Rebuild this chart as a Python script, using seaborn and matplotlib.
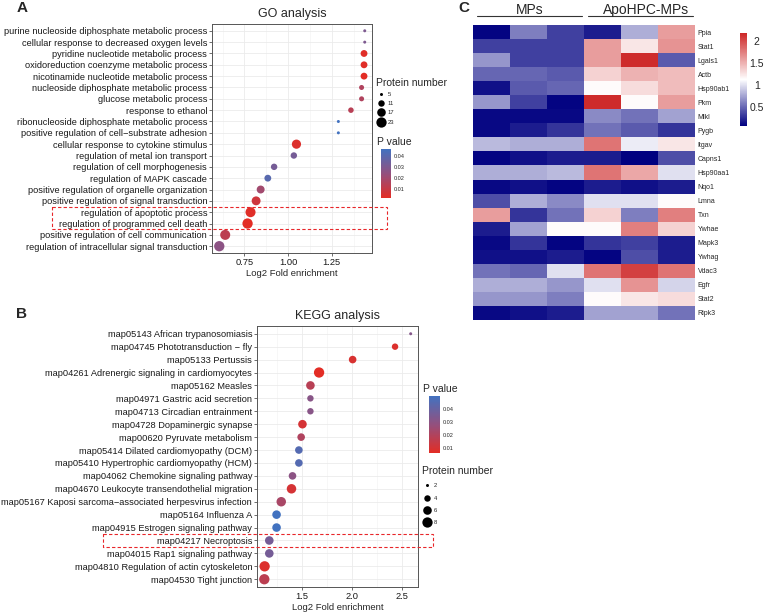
import numpy as np
import pandas as pd
import matplotlib
matplotlib.use("Agg")
import matplotlib.pyplot as plt
import matplotlib.transforms as mtransforms
import seaborn as sns
from matplotlib.colors import LinearSegmentedColormap, Normalize
from matplotlib.cm import ScalarMappable
from matplotlib.patches import Rectangle
from matplotlib.lines import Line2D
from matplotlib.ticker import MultipleLocator, AutoMinorLocator, FormatStrFormatter

# ---- GO enrichment (panel A) ----
go_terms = [
    "purine nucleoside diphosphate metabolic process",
    "cellular response to decreased oxygen levels",
    "pyridine nucleotide metabolic process",
    "oxidoreduction coenzyme metabolic process",
    "nicotinamide nucleotide metabolic process",
    "nucleoside diphosphate metabolic process",
    "glucose metabolic process",
    "response to ethanol",
    "ribonucleoside diphosphate metabolic process",
    "positive regulation of cell\u2212substrate adhesion",
    "cellular response to cytokine stimulus",
    "regulation of metal ion transport",
    "regulation of cell morphogenesis",
    "regulation of MAPK cascade",
    "positive regulation of organelle organization",
    "positive regulation of signal transduction",
    "regulation of apoptotic process",
    "regulation of programmed cell death",
    "positive regulation of cell communication",
    "regulation of intracellular signal transduction",
]
go_fold = [1.439, 1.439, 1.435, 1.435, 1.435, 1.421, 1.421, 1.36, 1.288, 1.288,
           1.048, 1.033, 0.92, 0.884, 0.843, 0.817, 0.785, 0.768, 0.64, 0.606]
go_pval = [0.030, 0.030, 0.003, 0.003, 0.002, 0.016, 0.016, 0.014, 0.046, 0.046,
           0.004, 0.032, 0.032, 0.040, 0.020, 0.008, 0.003, 0.002, 0.013, 0.026]
go_count = [5, 5, 12, 12, 12, 8, 8, 9, 5, 5, 19, 11, 11, 12, 15, 18, 22, 23, 22, 23]
go_size_breaks = [5, 11, 17, 23]

# ---- KEGG enrichment (panel B) ----
kegg_terms = [
    "map05143 African trypanosomiasis",
    "map04745 Phototransduction \u2212 fly",
    "map05133 Pertussis",
    "map04261 Adrenergic signaling in cardiomyocytes",
    "map05162 Measles",
    "map04971 Gastric acid secretion",
    "map04713 Circadian entrainment",
    "map04728 Dopaminergic synapse",
    "map00620 Pyruvate metabolism",
    "map05414 Dilated cardiomyopathy (DCM)",
    "map05410 Hypertrophic cardiomyopathy (HCM)",
    "map04062 Chemokine signaling pathway",
    "map04670 Leukocyte transendothelial migration",
    "map05167 Kaposi sarcoma\u2212associated herpesvirus infection",
    "map05164 Influenza A",
    "map04915 Estrogen signaling pathway",
    "map04217 Necroptosis",
    "map04015 Rap1 signaling pathway",
    "map04810 Regulation of actin cytoskeleton",
    "map04530 Tight junction",
]
kegg_fold = [2.59, 2.433, 2.007, 1.67, 1.583, 1.583, 1.583, 1.503, 1.49, 1.467,
             1.467, 1.403, 1.393, 1.29, 1.243, 1.243, 1.17, 1.17, 1.123, 1.12]
kegg_pval = [0.032, 0.008, 0.009, 0.006, 0.018, 0.031, 0.031, 0.010, 0.020, 0.045,
             0.045, 0.030, 0.010, 0.022, 0.050, 0.050, 0.036, 0.036, 0.008, 0.017]
kegg_count = [2, 4, 5, 8, 6, 4, 4, 6, 5, 5, 5, 5, 7, 7, 6, 6, 6, 6, 8, 8]
kegg_size_breaks = [2, 4, 6, 8]

# ---- heatmap (panel C) ----
heat_genes = ["Ppia", "Stat1", "Lgals1", "Actb", "Hsp90ab1", "Pkm", "Mlkl", "Pygb",
              "Itgav", "Capns1", "Hsp90aa1", "Nqo1", "Lmna", "Txn", "Ywhae", "Mapk3",
              "Ywhag", "Vdac3", "Egfr", "Stat2", "Ripk3"]
heat_groups = ["MPs", "ApoHPC-MPs"]
heat_samples = ["MPs_1", "MPs_2", "MPs_3", "ApoHPC-MPs_1", "ApoHPC-MPs_2", "ApoHPC-MPs_3"]
heat_values = [
    [0.10, 0.60, 0.35, 0.20, 0.80, 1.60],
    [0.35, 0.35, 0.35, 1.60, 1.25, 1.65],
    [0.70, 0.35, 0.35, 1.60, 2.15, 0.45],
    [0.50, 0.50, 0.45, 1.35, 1.50, 1.45],
    [0.15, 0.45, 0.50, 1.15, 1.30, 1.45],
    [0.70, 0.35, 0.10, 2.15, 1.15, 1.60],
    [0.12, 0.12, 0.12, 0.65, 0.55, 0.75],
    [0.12, 0.20, 0.30, 0.55, 0.45, 0.30],
    [0.85, 0.80, 0.80, 1.80, 1.05, 1.25],
    [0.10, 0.15, 0.20, 0.20, 0.08, 0.40],
    [0.80, 0.80, 0.85, 1.80, 1.55, 1.00],
    [0.12, 0.15, 0.10, 0.20, 0.15, 0.20],
    [0.40, 0.80, 0.65, 1.00, 1.00, 1.15],
    [1.60, 0.30, 0.55, 1.35, 0.60, 1.75],
    [0.20, 0.75, 1.15, 1.15, 1.75, 1.35],
    [0.12, 0.30, 0.10, 0.30, 0.35, 0.20],
    [0.15, 0.15, 0.20, 0.10, 0.40, 0.20],
    [0.55, 0.50, 1.00, 1.80, 2.05, 1.80],
    [0.80, 0.80, 0.70, 1.00, 1.65, 0.95],
    [0.70, 0.70, 0.60, 1.15, 1.25, 1.30],
    [0.12, 0.15, 0.20, 0.75, 0.75, 0.55],
]
heat_range = (0.08, 2.18)
heat_ticks = [0.5, 1, 1.5, 2]

sns.set_style("whitegrid")
plt.rcParams["font.family"] = ["Liberation Sans", "DejaVu Sans"]

W, H = 767, 614
fig = plt.figure(figsize=(W / 100, H / 100), dpi=100)


def fbox(x0, y0, x1, y1):
    # pixel box (top-left origin) -> figure fraction rect
    return [x0 / W, 1 - y1 / H, (x1 - x0) / W, (y1 - y0) / H]


pcmap = LinearSegmentedColormap.from_list("pv", ["#E32D25", "#93507E", "#4272C0"])
S_MIN, S_MAX = (3 * 0.72) ** 2, (10.3 * 0.72) ** 2
BOX_RED = "#E8262A"


def dot_panel(ax, terms, fold, pval, count, breaks, title, major, fmt, box_rows, box_x):
    df = pd.DataFrame({"term": terms, "fold": fold, "p": pval, "n": count})
    nmin, nmax = min(count), max(count)
    sns.scatterplot(data=df, x="fold", y="term", hue="p", size="n",
                    palette=pcmap, hue_norm=(min(pval), max(pval)),
                    sizes=(S_MIN, S_MAX), size_norm=(nmin, nmax),
                    linewidth=0, legend=False, ax=ax, zorder=3)
    lo, hi = min(fold), max(fold)
    pad = 0.05 * (hi - lo)
    ax.set_xlim(lo - pad, hi + pad)
    ax.set_ylim(len(terms) - 1 + 0.6, -0.6)
    ax.xaxis.set_major_locator(MultipleLocator(major))
    ax.xaxis.set_minor_locator(AutoMinorLocator(2))
    ax.xaxis.set_major_formatter(FormatStrFormatter(fmt))
    ax.grid(which="major", color="#EBEBEB", lw=0.6)
    ax.grid(which="minor", axis="x", color="#F2F2F2", lw=0.4)
    for s in ax.spines.values():
        s.set_color("#555555")
        s.set_linewidth(0.7)
    ax.tick_params(axis="both", which="major", labelsize=6.7, color="#333333",
                   length=2, width=0.5, labelcolor="#1a1a1a", pad=1.5, bottom=True, left=True)
    ax.tick_params(axis="x", which="minor", length=0)
    ax.set_ylabel("")
    ax.set_xlabel("Log2 Fold enrichment", fontsize=6.8, labelpad=1.5)
    ax.set_title(title, fontsize=9, pad=5)

    i0 = terms.index(box_rows[0])
    i1 = terms.index(box_rows[-1])
    trans = mtransforms.blended_transform_factory(ax.transAxes, ax.transData)
    ax.add_patch(Rectangle((box_x[0], i0 - 0.5), box_x[1] - box_x[0], i1 - i0 + 1,
                           transform=trans, fill=False, ec=BOX_RED, lw=0.8,
                           ls=(0, (3, 2)), clip_on=False, zorder=5))

    handles = []
    for b in breaks:
        s = S_MIN + (b - nmin) / (nmax - nmin) * (S_MAX - S_MIN)
        handles.append(Line2D([], [], marker="o", ls="", color="black",
                              markersize=np.sqrt(s), markeredgewidth=0))
    return handles, Normalize(min(pval), max(pval))


def size_legend(ax, handles, breaks, xy, spacing):
    leg = ax.legend(handles, [str(b) for b in breaks], title="Protein number",
                    loc="upper left", bbox_to_anchor=xy, bbox_transform=fig.transFigure,
                    frameon=False, fontsize=4.2, title_fontsize=7.5, handletextpad=0.4,
                    labelspacing=spacing, borderpad=0, borderaxespad=0, handlelength=1.6)
    leg._legend_box.align = "left"


def pval_bar(norm, rect, title_xy):
    cax = fig.add_axes(rect)
    cb = fig.colorbar(ScalarMappable(norm=norm, cmap=pcmap), cax=cax,
                      ticks=[0.01, 0.02, 0.03, 0.04])
    cb.outline.set_visible(False)
    cax.yaxis.set_major_formatter(FormatStrFormatter("%.2f"))
    cax.tick_params(labelsize=4, length=2, width=0.5, color="white", direction="in", pad=2)
    fig.text(title_xy[0], title_xy[1], "P value", fontsize=7.5, va="center", ha="left")


# panel A
ax_go = fig.add_axes(fbox(212, 24, 372, 253))
h_go, norm_go = dot_panel(ax_go, go_terms, go_fold, go_pval, go_count, go_size_breaks,
                          "GO analysis", 0.25, "%.2f",
                          ["regulation of apoptotic process", "regulation of programmed cell death"],
                          (-1.0, 1.094))
size_legend(ax_go, h_go, go_size_breaks, (376 / W, 1 - 78 / H), 0.7)
pval_bar(norm_go, fbox(381, 149, 391, 198), (377 / W, 1 - 142 / H))

# panel B
ax_kg = fig.add_axes(fbox(257, 326, 418, 587))
h_kg, norm_kg = dot_panel(ax_kg, kegg_terms, kegg_fold, kegg_pval, kegg_count, kegg_size_breaks,
                          "KEGG analysis", 0.5, "%.1f", ["map04217 Necroptosis"],
                          (-0.957, 1.093))
size_legend(ax_kg, h_kg, kegg_size_breaks, (422 / W, 1 - 466 / H), 1.25)
pval_bar(norm_kg, fbox(429, 396, 440, 453), (423 / W, 1 - 389 / H))

# panel C
heat_cmap = LinearSegmentedColormap.from_list("hm", ["navy", "white", "#CD2626"])
heat_df = pd.DataFrame(heat_values, index=heat_genes, columns=heat_samples)
ax_hm = fig.add_axes(fbox(473, 25, 695, 320))
cax_hm = fig.add_axes(fbox(740, 33, 747, 126))
sns.heatmap(heat_df, cmap=heat_cmap, vmin=heat_range[0], vmax=heat_range[1],
            ax=ax_hm, cbar_ax=cax_hm, xticklabels=False, yticklabels=True,
            cbar_kws={"ticks": heat_ticks})
ax_hm.yaxis.tick_right()
ax_hm.tick_params(axis="y", length=0, labelsize=5.0, pad=2, labelrotation=0)
ax_hm.tick_params(axis="x", length=0)
ax_hm.set_xlabel("")
ax_hm.set_ylabel("")
cax_hm.tick_params(length=0, labelsize=7.5, pad=7)
cax_hm.set_yticklabels(["0.5", "1", "1.5", "2"], ha="center")
ax_hm.collections[0].colorbar.outline.set_visible(False)

per = len(heat_samples) // len(heat_groups)
for gi, g in enumerate(heat_groups):
    x0, x1 = gi * per + 0.1, (gi + 1) * per - 0.05
    ax_hm.plot([x0, x1], [-0.62, -0.62], color="#333333", lw=0.8, clip_on=False)
    ax_hm.text((x0 + x1) / 2 + 0.15 * gi, -1.05, g, fontsize=10, ha="center", va="center")

# panel letters
for lbl, (px, py) in zip("ABC", [(17, 8), (16, 314), (458, 8)]):
    fig.text(px / W, 1 - py / H, lbl, fontsize=11, fontweight="bold", ha="left", va="center")

fig.savefig("out.png", dpi=100)
